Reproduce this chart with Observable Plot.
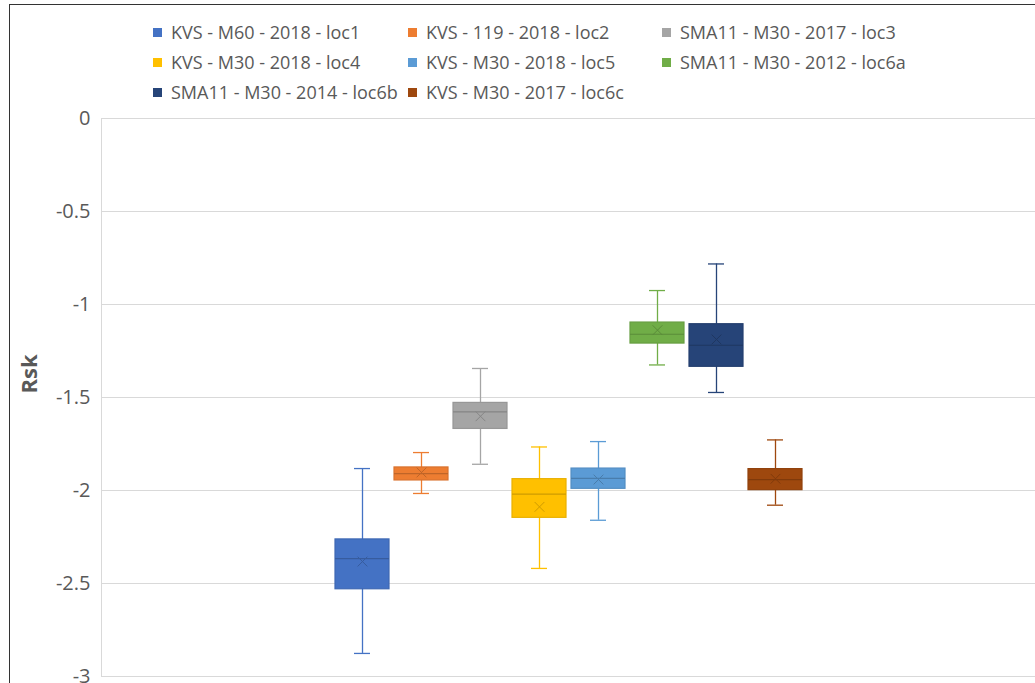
<!DOCTYPE html>
<html>
<head>
<meta charset="utf-8">
<script src="https://cdn.jsdelivr.net/npm/d3@7"></script>
<script src="https://cdn.jsdelivr.net/npm/@observablehq/plot@0.6"></script>
<style>
  html, body { margin: 0; padding: 0; background: #fff; overflow: hidden; width: 1035px; height: 683px; }
  #page { position: relative; width: 1035px; height: 683px; overflow: hidden; font-family: "Open Sans", sans-serif; }
  #border { position: absolute; left: 9px; top: 4px; width: 1026px; height: 679px; box-sizing: border-box; border-left: 1.5px solid #333; border-top: 1.5px solid #333; }
  .lg { position: absolute; display: flex; align-items: center; font-size: 18px; color: #595959; white-space: nowrap; }
  .sw { width: 9px; height: 9px; margin-right: 9px; }
  #chart { position: absolute; left: 0; top: 100px; width: 1035px; height: 583px; overflow: hidden; }
</style>
</head>
<body>
<div id="page">
  <div id="border"></div>
  <div id="legend"></div>
  <div id="chart"></div>
</div>
<script>
// ---- data ----
const names = [
  "KVS - M60 - 2018 - loc1",
  "KVS - 119 - 2018 - loc2",
  "SMA11 - M30 - 2017 - loc3",
  "KVS - M30 - 2018 - loc4",
  "KVS - M30 - 2018 - loc5",
  "SMA11 - M30 - 2012 - loc6a",
  "SMA11 - M30 - 2014 - loc6b",
  "KVS - M30 - 2017 - loc6c"
];
const colors = ["#4472C4", "#ED7D31", "#A5A5A5", "#FFC000", "#5B9BD5", "#70AD47", "#264478", "#9E480E"];
const whiskerLow  = [-2.876, -2.016, -1.859, -2.419, -2.160, -1.325, -1.473, -2.079];
const boxLow      = [-2.531, -1.946, -1.669, -2.147, -1.991, -1.210, -1.335, -1.998];
const medians     = [-2.366, -1.909, -1.577, -2.020, -1.935, -1.160, -1.219, -1.941];
const means       = [-2.382, -1.903, -1.601, -2.088, -1.941, -1.138, -1.188, -1.937];
const boxHigh     = [-2.263, -1.876, -1.529, -1.939, -1.882, -1.097, -1.106, -1.885];
const whiskerHigh = [-1.882, -1.796, -1.344, -1.766, -1.737, -0.925, -0.782, -1.728];
const yTicks = [0, -0.5, -1, -1.5, -2, -2.5, -3];
const yLabel = "Rsk";

const data = names.map((name, i) => ({
  name,
  color: colors[i],
  dark: d3.color(colors[i]).darker(0.6).formatHex(),
  edge: d3.color(colors[i]).darker(0.25).formatHex(),
  wlo: whiskerLow[i], blo: boxLow[i], med: medians[i], mean: means[i], bhi: boxHigh[i], whi: whiskerHigh[i]
}));

// ---- legend ----
const legendCols = [153, 408, 662];
const legendRows = [32, 62, 92];
const legend = document.getElementById("legend");
names.forEach((n, i) => {
  const d = document.createElement("div");
  d.className = "lg";
  d.style.left = legendCols[i % 3] + "px";
  d.style.top = (legendRows[Math.floor(i / 3)] - 12) + "px";
  d.style.height = "24px";
  d.innerHTML = `<div class="sw" style="background:${colors[i]}"></div><span>${n}</span>`;
  legend.appendChild(d);
});

// ---- chart ----
const chart = Plot.plot({
  width: 1035,
  height: 600,
  marginTop: 18,
  marginBottom: 24,
  marginLeft: 101,
  marginRight: -3,
  style: { fontFamily: "Open Sans, sans-serif", color: "#595959", overflow: "hidden" },
  x: { type: "band", domain: names, range: [332.6, 805.6], paddingInner: 0.08, paddingOuter: 0.04, axis: null },
  y: { domain: [-3, 0], ticks: yTicks },
  color: { type: "identity" },
  marks: [
    Plot.ruleY(yTicks, { stroke: "#D9D9D9", strokeWidth: 1 }),
    Plot.frame({ stroke: "#D9D9D9" }),
    Plot.axisY({ ticks: yTicks, tickSize: 0, tickPadding: 11, fontSize: 20, fill: "#595959", label: null,
                 tickFormat: d => (d === 0 ? "0" : "-" + Math.abs(d)) }),
    Plot.text([yLabel], { frameAnchor: "left", dx: -72, dy: -4, rotate: -90, fontSize: 22, fontWeight: "bold", fill: "#595959" }),
    Plot.ruleX(data, { x: "name", y1: "wlo", y2: "whi", stroke: "color", strokeWidth: 1.3 }),
    Plot.tickY(data, { x: "name", y: "wlo", stroke: "color", strokeWidth: 1.3, insetLeft: 19, insetRight: 19 }),
    Plot.tickY(data, { x: "name", y: "whi", stroke: "color", strokeWidth: 1.3, insetLeft: 19, insetRight: 19 }),
    Plot.barY(data, { x: "name", y1: "blo", y2: "bhi", fill: "color", stroke: "edge", strokeWidth: 1.2 }),
    Plot.tickY(data, { x: "name", y: "med", stroke: "dark", strokeWidth: 1.2 }),
    Plot.dot(data, { x: "name", y: "mean", symbol: "times", r: 4.5, stroke: "dark", strokeWidth: 1 })
  ]
});
document.getElementById("chart").appendChild(chart);
</script>
</body>
</html>
